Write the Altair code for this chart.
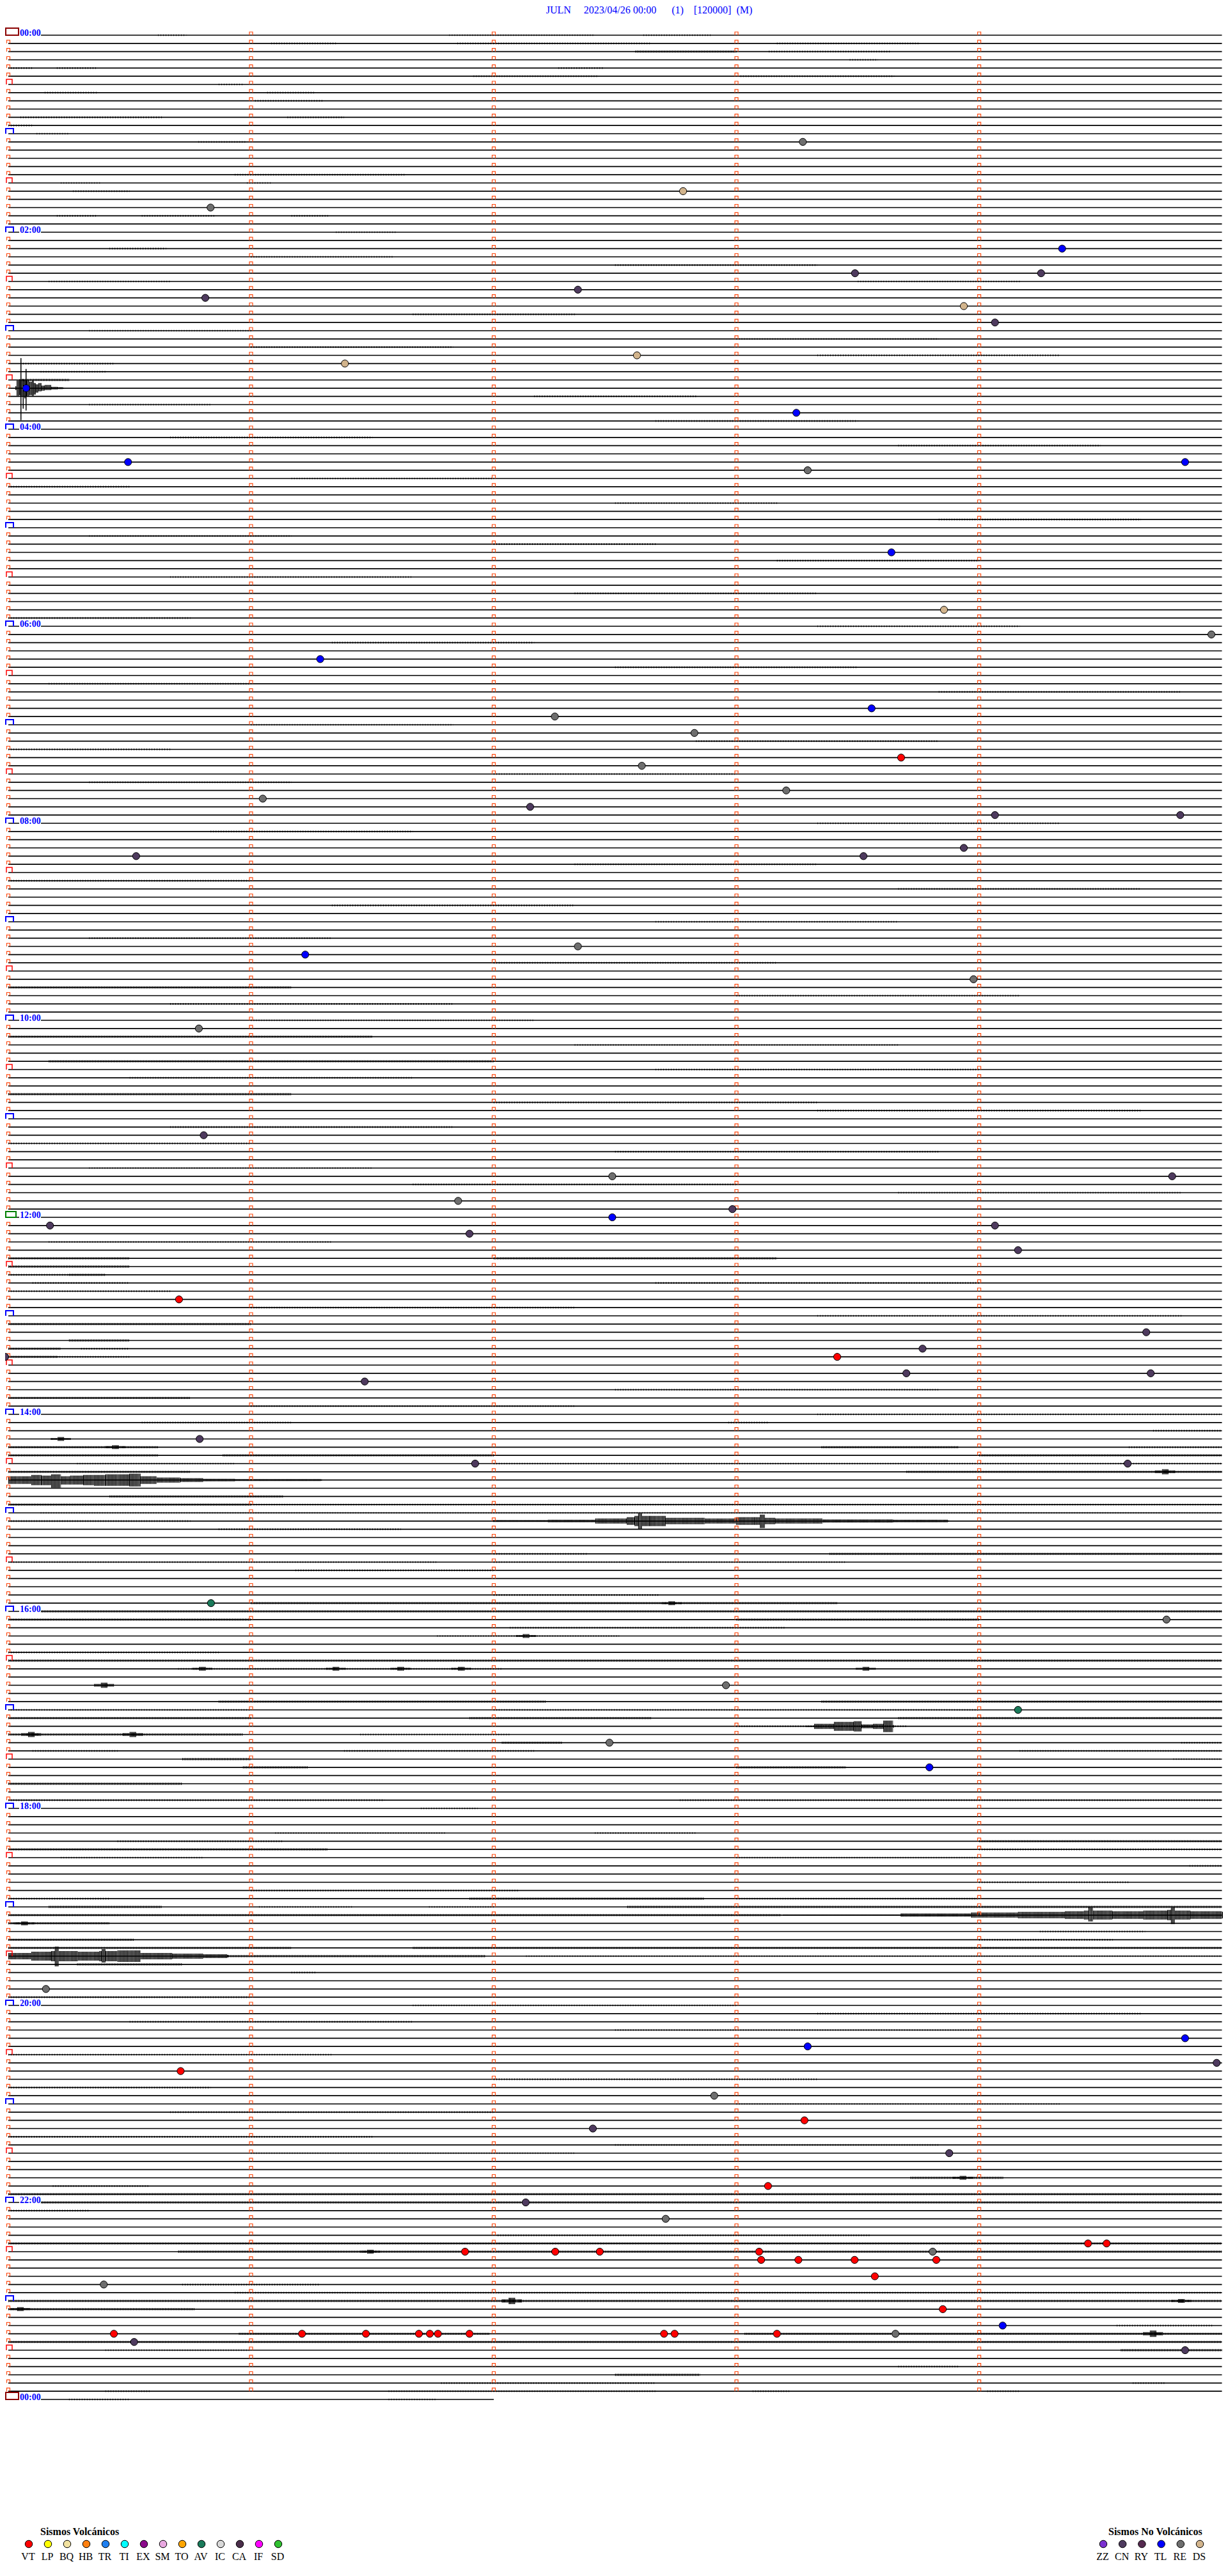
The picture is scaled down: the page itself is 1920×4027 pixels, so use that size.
import altair as alt
import pandas as pd

# ------------------------------------------------------------------ data
NB = "\u00a0"
TITLE = "JULN" + NB * 5 + "2023/04/26 00:00" + NB * 6 + "(1)" + NB * 4 + "[120000]" + NB * 2 + "(M)"

LINE_COUNT = 289            # 5-minute rows, 00:00 .. 24:00
ROW_SECONDS = 300
LAST_ROW_SECONDS = 120
MINUTE_MARKS = [60, 120, 180, 240]

HOUR_LABEL_LINES = [0, 24, 48, 72, 96, 120, 144, 168, 192, 216, 240, 264, 288]
HOUR_LABELS = ["00:00", "02:00", "04:00", "06:00", "08:00", "10:00", "12:00",
               "14:00", "16:00", "18:00", "20:00", "22:00", "00:00"]

VOLC_CODES = ["VT", "LP", "BQ", "HB", "TR", "TI", "EX", "SM", "TO", "AV", "IC", "CA", "IF", "SD"]
VOLC_COLORS = ["#FF0000", "#FFFF00", "#F2E2A0", "#FF8010", "#2080F0", "#00FFFF", "#8B0A8B",
               "#E8A8E0", "#FFA500", "#1A7A5A", "#D8D8D8", "#4A2E4A", "#FF00FF", "#30C030"]
NONVOLC_CODES = ["ZZ", "CN", "RY", "TL", "RE", "DS"]
NONVOLC_COLORS = ["#7A30D0", "#4E3A5E", "#552A50", "#0000FF", "#6E6E6E", "#D2B48C"]

# events: (row, second within row, type)
EVENTS = [
    (13, 196.4, "RE"), (19, 166.8, "DS"), (21, 50.0, "RE"), (26, 260.5, "TL"), (29, 209.3, "CN"),
    (29, 255.3, "CN"), (31, 140.8, "CN"), (32, 48.7, "CN"), (33, 236.2, "DS"), (35, 243.9, "CN"),
    (39, 155.4, "DS"), (40, 83.2, "DS"), (43, 4.4, "TL"), (46, 194.8, "TL"), (52, 29.6, "TL"),
    (52, 290.9, "TL"), (53, 197.6, "RE"), (63, 218.3, "TL"), (70, 231.3, "DS"), (73, 297.4, "RE"),
    (76, 77.1, "TL"), (82, 213.4, "TL"), (83, 135.1, "RE"), (85, 169.6, "RE"), (88, 220.7, "VT"),
    (89, 156.6, "RE"), (92, 192.3, "RE"), (93, 62.9, "RE"), (94, 129.0, "CN"), (95, 243.9, "CN"),
    (95, 289.7, "CN"), (99, 236.2, "CN"), (100, 31.6, "CN"), (100, 211.4, "CN"), (111, 140.8, "RE"),
    (112, 73.4, "TL"), (115, 238.6, "RE"), (121, 47.1, "RE"), (134, 48.3, "CN"), (139, 149.3, "RE"),
    (139, 287.7, "CN"), (142, 111.2, "RE"), (143, 179.0, "CN"), (144, 149.3, "TL"), (145, 10.3, "CN"),
    (145, 243.9, "CN"), (146, 114.0, "CN"), (148, 249.6, "CN"), (154, 42.2, "VT"), (158, 281.3, "CN"),
    (160, 226.0, "CN"), (161, -0.8, "CN"), (161, 204.9, "VT"), (163, 222.0, "CN"), (163, 282.4, "CN"),
    (164, 88.1, "CN"), (171, 47.3, "CN"), (174, 115.4, "CN"), (174, 276.7, "CN"), (191, 50.1, "AV"),
    (193, 286.3, "RE"), (201, 177.4, "RE"), (204, 249.6, "AV"), (208, 148.6, "RE"), (211, 227.7, "TL"),
    (238, 9.3, "RE"), (244, 290.9, "TL"), (245, 197.6, "TL"), (247, 298.7, "CN"), (248, 42.6, "VT"),
    (251, 174.5, "RE"), (254, 196.8, "VT"), (255, 144.5, "CN"), (258, 232.6, "CN"), (262, 187.8, "VT"),
    (264, 127.9, "CN"), (266, 162.5, "RE"), (269, 266.9, "VT"), (269, 271.5, "VT"), (270, 112.9, "VT"),
    (270, 135.2, "VT"), (270, 146.2, "VT"), (270, 185.6, "VT"), (270, 228.5, "RE"), (271, 186.1, "VT"),
    (271, 195.3, "VT"), (271, 209.2, "VT"), (271, 229.4, "VT"), (273, 214.2, "VT"), (274, 23.6, "RE"),
    (277, 231.0, "VT"), (279, 245.8, "TL"), (280, 26.1, "VT"), (280, 72.6, "VT"), (280, 88.4, "VT"),
    (280, 101.5, "VT"), (280, 104.2, "VT"), (280, 106.2, "VT"), (280, 114.0, "VT"), (280, 162.1, "VT"),
    (280, 164.7, "VT"), (280, 190.0, "VT"), (280, 219.3, "RE"), (281, 31.1, "CN"), (282, 290.9, "CN"),
]

# background noise: (row, start s, end s)
NOISE_LIGHT = [
    (0, 37, 44), (0, 109, 145), (0, 157, 174), (1, 65, 81), (1, 111, 159), (1, 190, 225), (2, 188, 218),
    (3, 208, 215), (4, 0, 6), (4, 12, 22), (4, 136, 147), (5, 115, 146), (5, 181, 219), (6, 52, 58),
    (7, 9, 22), (7, 64, 76), (8, 61, 78), (10, 3, 38), (10, 69, 83), (11, 0, 6), (12, 7, 15),
    (13, 47, 59), (17, 56, 98), (18, 13, 23), (18, 59, 65), (19, 16, 30), (22, 12, 22), (22, 33, 51),
    (22, 70, 79), (24, 81, 96), (26, 25, 39), (27, 60, 95), (28, 150, 200), (30, 10, 40), (30, 210, 250),
    (34, 100, 140), (36, 20, 60), (37, 180, 230), (38, 60, 110), (39, 200, 260), (40, 3, 26), (41, 8, 24),
    (44, 130, 170), (45, 20, 50), (47, 160, 210), (49, 40, 90), (50, 220, 270), (54, 70, 120), (55, 0, 30),
    (57, 150, 190), (59, 230, 280), (61, 20, 70), (62, 120, 160), (64, 190, 240), (66, 40, 100),
    (68, 140, 200), (71, 0, 45), (72, 200, 250), (74, 80, 130), (77, 150, 210), (79, 10, 60),
    (80, 230, 290), (84, 60, 110), (86, 170, 230), (87, 0, 40), (90, 120, 180), (91, 20, 70),
    (96, 200, 260), (97, 50, 100), (101, 140, 200), (103, 0, 60), (104, 220, 280), (106, 80, 140),
    (108, 160, 220), (110, 20, 80), (113, 120, 190), (117, 180, 250), (118, 40, 110), (120, 60, 130),
    (123, 140, 220), (126, 160, 240), (127, 30, 100), (130, 120, 200), (131, 200, 280), (133, 40, 110),
    (135, 0, 60), (136, 150, 230), (138, 20, 90), (140, 100, 180), (141, 220, 290), (147, 10, 80),
    (151, 0, 15), (152, 6, 30), (152, 160, 240), (153, 0, 40), (155, 60, 140), (156, 200, 290),
    (160, 18, 30), (161, 12, 30), (165, 150, 230), (167, 60, 140), (168, 200, 300),
    (169, 33, 70), (169, 178, 188), (170, 283, 300), (172, 277, 300), (174, 17, 56), (174, 120, 300),
    (179, 60, 300), (180, 8, 300), (181, 0, 45), (182, 52, 97), (185, 120, 143), (186, 0, 106),
    (186, 120, 207), (187, 71, 120), (190, 120, 161), (194, 124, 192), (195, 106, 151), (197, 0, 52),
    (199, 42, 122), (204, 0, 60), (204, 120, 240), (206, 180, 222), (207, 87, 124), (208, 290, 300),
    (209, 6, 27), (209, 83, 130), (209, 250, 300), (210, 288, 300), (215, 0, 93), (215, 166, 300),
    (216, 102, 116), (219, 66, 108), (219, 145, 170), (220, 27, 68), (221, 240, 300), (222, 13, 48),
    (222, 180, 240), (223, 292, 300), (225, 240, 277), (226, 60, 126), (227, 0, 25), (227, 180, 240),
    (228, 62, 85), (228, 104, 120), (231, 255, 281), (232, 240, 273), (234, 128, 300), (236, 70, 76),
    (239, 0, 60), (240, 100, 180), (241, 200, 280), (242, 30, 100), (243, 150, 240), (246, 0, 80),
    (249, 120, 200), (250, 0, 50), (252, 180, 260), (253, 40, 120), (256, 0, 90), (257, 150, 230),
    (258, 60, 140), (262, 11, 35), (265, 0, 20), (268, 121, 213), (274, 43, 77), (275, 56, 300),
    (279, 274, 298), (282, 24, 60), (284, 220, 235), (286, 107, 160), (286, 278, 286), (287, 24, 35),
    (287, 94, 160), (287, 184, 193), (287, 242, 250), (288, 15, 30), (288, 94, 106),
]
NOISE_MEDIUM = [
    (2, 155, 180), (42, 3, 15), (116, 0, 70), (122, 0, 90), (125, 10, 120), (129, 0, 70), (149, 0, 30),
    (149, 120, 190), (150, 0, 30), (151, 15, 24), (157, 0, 60), (159, 15, 30), (160, 0, 13), (161, 0, 12),
    (166, 0, 45), (172, 0, 37), (172, 201, 235), (173, 0, 37), (173, 53, 120), (173, 240, 300),
    (175, 0, 45), (175, 222, 300), (178, 25, 68), (179, 0, 60), (185, 203, 300), (191, 60, 205),
    (192, 8, 300), (193, 0, 60), (193, 180, 240), (198, 0, 300), (203, 52, 133), (203, 201, 300),
    (205, 0, 60), (205, 114, 159), (205, 220, 300), (207, 0, 58), (208, 122, 137), (210, 43, 60),
    (211, 58, 74), (211, 180, 207), (213, 0, 43), (220, 240, 300), (221, 0, 79), (227, 114, 172),
    (228, 10, 38), (228, 153, 300), (229, 0, 191), (230, 0, 25), (232, 0, 31), (233, 0, 70),
    (233, 100, 300), (234, 54, 118), (235, 17, 43), (261, 223, 246), (263, 0, 300), (264, 8, 300),
    (269, 0, 300), (270, 42, 300), (276, 0, 300), (277, 0, 46), (280, 57, 119), (280, 182, 300),
    (281, 0, 300), (282, 275, 300), (285, 150, 171),
]

# larger wave trains: row, seconds, amplitude above / below the row (px)
QUAKE_ROW = 43
QUAKE_SEC = [1.74, 2.06, 2.69, 2.92, 3.00, 3.08, 3.48, 3.56, 3.64, 3.95, 4.19, 4.27, 4.35, 4.58,
             5.22, 5.85, 6.32, 6.80, 7.43, 8.22, 9.01, 10.59, 12.17, 13.44]
QUAKE_UP = [3, 12, 14, 12, 47, 12, 14, 14, 12, 12, 12, 30, 12, 12, 10, 12, 8, 6, 8, 4, 5, 2, 1.5, 1]
QUAKE_DOWN = [3, 12, 11, 12, 50, 12, 12, 32, 12, 16, 12, 35, 12, 12, 11, 12, 10, 7, 5, 4, 3, 2, 1.5, 1]

TRAIN_A_ROW = 176
TRAIN_A_SEC = [0, 5.7, 8.2, 10.6, 13.0, 15.3, 18.5, 21.2, 24.0, 27.0, 29.9, 32.7, 36.7, 42.5, 48.2, 56.0, 77.3]
TRAIN_A_UP = [6, 8, 7, 9, 6, 7, 8, 8, 9, 9, 10, 6, 4, 3, 2, 1.5, 1]
TRAIN_A_DOWN = [6, 8, 8, 12, 7, 7, 8, 9, 9, 9, 10, 6, 4, 3, 2, 1.5, 1]

TRAIN_B_ROW = 181
TRAIN_B_SEC = [119.8, 133.4, 145.1, 152.9, 154.8, 155.7, 156.7, 158.6, 162.5, 172.2, 179.9, 184.5,
               185.8, 187.0, 189.6, 201.3, 218.7, 232.3]
TRAIN_B_UP = [1.5, 2, 4, 6, 8, 12, 8, 8, 5, 4, 6, 6, 10, 5, 4, 2.5, 2, 1]
TRAIN_B_DOWN = [1.5, 2, 4, 6, 8, 13, 8, 8, 5, 4, 6, 6, 11, 5, 4, 2.5, 2, 1]

TRAIN_C_ROW = 229
TRAIN_C_SEC = [191.5, 220.6, 238.0, 249.6, 261.2, 265.9, 267.0, 268.1, 272.9, 280.6, 286.5, 287.4, 288.4, 292.2, 300]
TRAIN_C_UP = [1, 2.5, 4, 5, 6, 7, 12, 7, 6, 7, 8, 12, 7, 6, 5]
TRAIN_C_DOWN = [1, 2.5, 4, 5, 6, 7, 10, 7, 6, 7, 8, 14, 7, 6, 5]

TRAIN_D_ROW = 234
TRAIN_D_SEC = [0, 5.7, 10.6, 11.5, 12.5, 17.2, 22.5, 23.1, 24.0, 27.0, 32.7, 40.5, 48.2, 54.1]
TRAIN_D_UP = [5, 7, 8, 15, 8, 7, 8, 11, 8, 9, 5, 4, 3, 2]
TRAIN_D_DOWN = [5, 7, 8, 16, 8, 7, 8, 10, 8, 9, 5, 4, 3, 2]

TRAIN_E_ROW = 206
TRAIN_E_SEC = [197.2, 199.2, 204.1, 209.0, 210.9, 213.8, 216.3, 218.7]
TRAIN_E_UP = [1, 4, 7, 8, 3, 4, 9, 2]
TRAIN_E_DOWN = [1, 4, 7, 8, 3, 4, 9, 2]

# short bursts: (row, centre s, amplitude px)
SMALL_BURSTS = [
    (171, 13.0, 3), (172, 26.5, 3), (191, 164, 3), (195, 128, 3), (199, 48, 3), (199, 81, 3),
    (199, 97, 3), (199, 112, 3), (199, 212, 3), (201, 23.7, 4), (207, 5.7, 4), (207, 30.8, 4),
    (230, 4, 3), (261, 236, 3), (270, 89.5, 3), (276, 124.5, 5), (276, 290, 3), (277, 3, 3),
    (280, 283, 5), (175, 286, 4),
]

# ------------------------------------------------------------------ layout
W, H = 1904, 4011
OFF = 8
X_PX = [13 - OFF, 1910.5 - OFF]
Y_PX = [55 - OFF, 3751 - OFF]
ROW_PX = (Y_PX[1] - Y_PX[0]) / (LINE_COUNT - 1)
SEC_PX = (X_PX[1] - X_PX[0]) / ROW_SECONDS

XS = alt.Scale(domain=[0, ROW_SECONDS], range=X_PX, nice=False, zero=False)
YS = alt.Scale(domain=[0, LINE_COUNT - 1], range=Y_PX, nice=False, zero=False)


def X(f):
    return alt.X(f, type="quantitative", scale=XS, axis=None)


def Y(f):
    return alt.Y(f, type="quantitative", scale=YS, axis=None)


COLOR_OF = dict(zip(VOLC_CODES + NONVOLC_CODES, VOLC_COLORS + NONVOLC_COLORS))
SERIF = "Liberation Serif"

# traces
traces = pd.DataFrame({
    "line": list(range(LINE_COUNT)),
    "s0": [0] * LINE_COUNT,
    "s1": [ROW_SECONDS] * (LINE_COUNT - 1) + [LAST_ROW_SECONDS],
})
trace_layer = alt.Chart(traces).mark_rule(color="black", strokeWidth=1.6).encode(
    x=X("s0"), x2="s1", y=Y("line"))


def noise_df(rows):
    return pd.DataFrame(rows, columns=["line", "s0", "s1"])


light_layer = alt.Chart(noise_df(NOISE_LIGHT)).mark_rule(
    color="black", strokeWidth=2.6, strokeDash=[1, 3], opacity=0.9).encode(
    x=X("s0"), x2="s1", y=Y("line"))
medium_layer = alt.Chart(noise_df(NOISE_MEDIUM)).mark_rule(
    color="black", strokeWidth=3.4, strokeDash=[1.2, 1.3]).encode(x=X("s0"), x2="s1", y=Y("line"))

# wave-train envelopes: each sample spans to the next one and is drawn as a comb of
# vertical strokes whose height is the trace's excursion at that point
trains = [
    (QUAKE_ROW, QUAKE_SEC, QUAKE_UP, QUAKE_DOWN),
    (TRAIN_A_ROW, TRAIN_A_SEC, TRAIN_A_UP, TRAIN_A_DOWN),
    (TRAIN_B_ROW, TRAIN_B_SEC, TRAIN_B_UP, TRAIN_B_DOWN),
    (TRAIN_C_ROW, TRAIN_C_SEC, TRAIN_C_UP, TRAIN_C_DOWN),
    (TRAIN_D_ROW, TRAIN_D_SEC, TRAIN_D_UP, TRAIN_D_DOWN),
    (TRAIN_E_ROW, TRAIN_E_SEC, TRAIN_E_UP, TRAIN_E_DOWN),
]
one_px = 1.0 / SEC_PX
recs = []
for row, secs, ups, downs in trains:
    for j, (s, u, d) in enumerate(zip(secs, ups, downs)):
        s_next = secs[j + 1] if j + 1 < len(secs) else s + one_px
        recs.append({"s0": s, "s1": max(s_next, s + 1.5 * one_px),
                     "yc": row + (d - u) / 2.0 / ROW_PX, "w": u + d})
for row, s, a in SMALL_BURSTS:
    recs.append({"s0": s - 2.5, "s1": s + 2.5, "yc": row, "w": a})
    recs.append({"s0": s - 0.8, "s1": s + 0.8, "yc": row, "w": 2 * a})
burst_layer = alt.Chart(pd.DataFrame(recs)).mark_rule(
    color="black", strokeDash=[1.5, 0.6], opacity=1).encode(
    x=X("s0"), x2="s1", y=Y("yc"), strokeWidth=alt.StrokeWidth("w:Q", scale=None))

# row markers (open boxes sitting on the trace)
PATHS = {
    "tick": "M -2.5 0 L -2.5 -5 L 2.5 -5 L 2.5 0",
    "half": "M -3 0 L -3 -8 L 6 -8 L 6 0",
    "hour": "M -4 0 L -4 -8 L 8 -8 L 8 0",
    "noon": "M -4 0 L -4 -9 L 12 -9 L 12 0 Z",
    "midnight": "M -4 0 L -4 -11 L 16 -11 L 16 0 Z",
}
MARK_COLOR = {"tick": "#FF4A10", "half": "#FF0000", "hour": "#0000FF", "noon": "#008000", "midnight": "#8B0000"}
MARK_WIDTH = {"tick": 1.2, "half": 1.5, "hour": 2, "noon": 2, "midnight": 2}
mrec = []
for i in range(LINE_COUNT):
    if i in (0, LINE_COUNT - 1):
        kind = "midnight"
    elif i == 144:
        kind = "noon"
    elif i % 12 == 0:
        kind = "hour"
    elif i % 6 == 0:
        kind = "half"
    else:
        kind = "tick"
    mrec.append({"line": i, "s": 0, "kind": kind})
    if i < LINE_COUNT - 1:
        for m in MINUTE_MARKS:
            mrec.append({"line": i, "s": m, "kind": "tick"})
mdf = pd.DataFrame(mrec)
mdf["path"] = mdf["kind"].map(PATHS)
mdf["col"] = mdf["kind"].map(MARK_COLOR)
mdf["sw"] = mdf["kind"].map(MARK_WIDTH)
marker_layer = alt.Chart(mdf).mark_point(filled=False, size=4, opacity=1).encode(
    x=X("s"), y=Y("line"),
    shape=alt.Shape("path:N", scale=None),
    color=alt.Color("col:N", scale=None),
    strokeWidth=alt.StrokeWidth("sw:Q", scale=None),
)

# hour labels
ldf = pd.DataFrame({"line": HOUR_LABEL_LINES, "label": HOUR_LABELS})
ldf["yt"] = ldf["line"] - 2.0 / ROW_PX
ldf["yb"] = ldf["line"] + 2.0 / ROW_PX
label_bg = alt.Chart(ldf).mark_rect(color="white").encode(
    x=alt.value(30 - OFF), x2=alt.value(64 - OFF), y=Y("yt"), y2="yb")
label_layer = alt.Chart(ldf).mark_text(
    align="left", baseline="alphabetic", font=SERIF, fontWeight="bold", fontSize=14,
    color="#0000FF", dy=1).encode(x=alt.value(31 - OFF), y=Y("line"), text="label:N")

# events
edf = pd.DataFrame(EVENTS, columns=["line", "s", "type"])
edf["col"] = edf["type"].map(COLOR_OF)
event_layer = alt.Chart(edf).mark_point(
    filled=True, shape="circle", size=125, stroke="black", strokeWidth=1, opacity=1).encode(
    x=X("s"), y=Y("line"), color=alt.Color("col:N", scale=None))

# title (kept inside the drawing so it is not clipped)
title_layer = alt.Chart(pd.DataFrame({"t": [TITLE]})).mark_text(
    font=SERIF, fontSize=16, color="#0000FF", align="center", baseline="alphabetic").encode(
    x=alt.value(1015 - OFF), y=alt.value(21 - OFF), text="t:N")

# legends
vdf = pd.DataFrame({"slot": list(range(len(VOLC_CODES))), "code": VOLC_CODES, "col": VOLC_COLORS})
ndf = pd.DataFrame({"slot": list(range(len(NONVOLC_CODES))), "code": NONVOLC_CODES, "col": NONVOLC_COLORS})
VX = alt.X("slot:Q", scale=alt.Scale(domain=[0, len(VOLC_CODES) - 1], range=[45 - OFF, 435 - OFF],
                                     nice=False, zero=False), axis=None)
NX = alt.X("slot:Q", scale=alt.Scale(domain=[0, len(NONVOLC_CODES) - 1], range=[1725 - OFF, 1876 - OFF],
                                     nice=False, zero=False), axis=None)
LEG_DOT_Y = 3977 - OFF
LEG_TXT_Y = 4002 - OFF
LEG_HEAD_Y = 3963 - OFF


def legend(df, xenc, head, head_x):
    dots = alt.Chart(df).mark_point(filled=True, shape="circle", size=133, stroke="black",
                                    strokeWidth=1, opacity=1).encode(
        x=xenc, y=alt.value(LEG_DOT_Y), color=alt.Color("col:N", scale=None))
    txt = alt.Chart(df).mark_text(font=SERIF, fontSize=16, color="black", align="center",
                                  baseline="alphabetic", dx=-1).encode(
        x=xenc, y=alt.value(LEG_TXT_Y), text="code:N")
    hd = alt.Chart(pd.DataFrame({"t": [head]})).mark_text(
        font=SERIF, fontSize=16, fontWeight="bold", color="black", align="left",
        baseline="alphabetic").encode(x=alt.value(head_x - OFF), y=alt.value(LEG_HEAD_Y), text="t:N")
    return [dots, txt, hd]


layers = [trace_layer, light_layer, medium_layer, burst_layer, marker_layer, label_bg,
          label_layer, event_layer, title_layer]
layers += legend(vdf, VX, "Sismos Volcánicos", 63)
layers += legend(ndf, NX, "Sismos No Volcánicos", 1733)

chart = alt.layer(*layers).resolve_scale(x="independent", y="independent").properties(
    width=W, height=H, autosize=alt.AutoSizeParams(type="none"), padding=0,
    background="white").configure_view(strokeWidth=0)

chart.save("out.html", embed_options={"renderer": "svg", "actions": False})
